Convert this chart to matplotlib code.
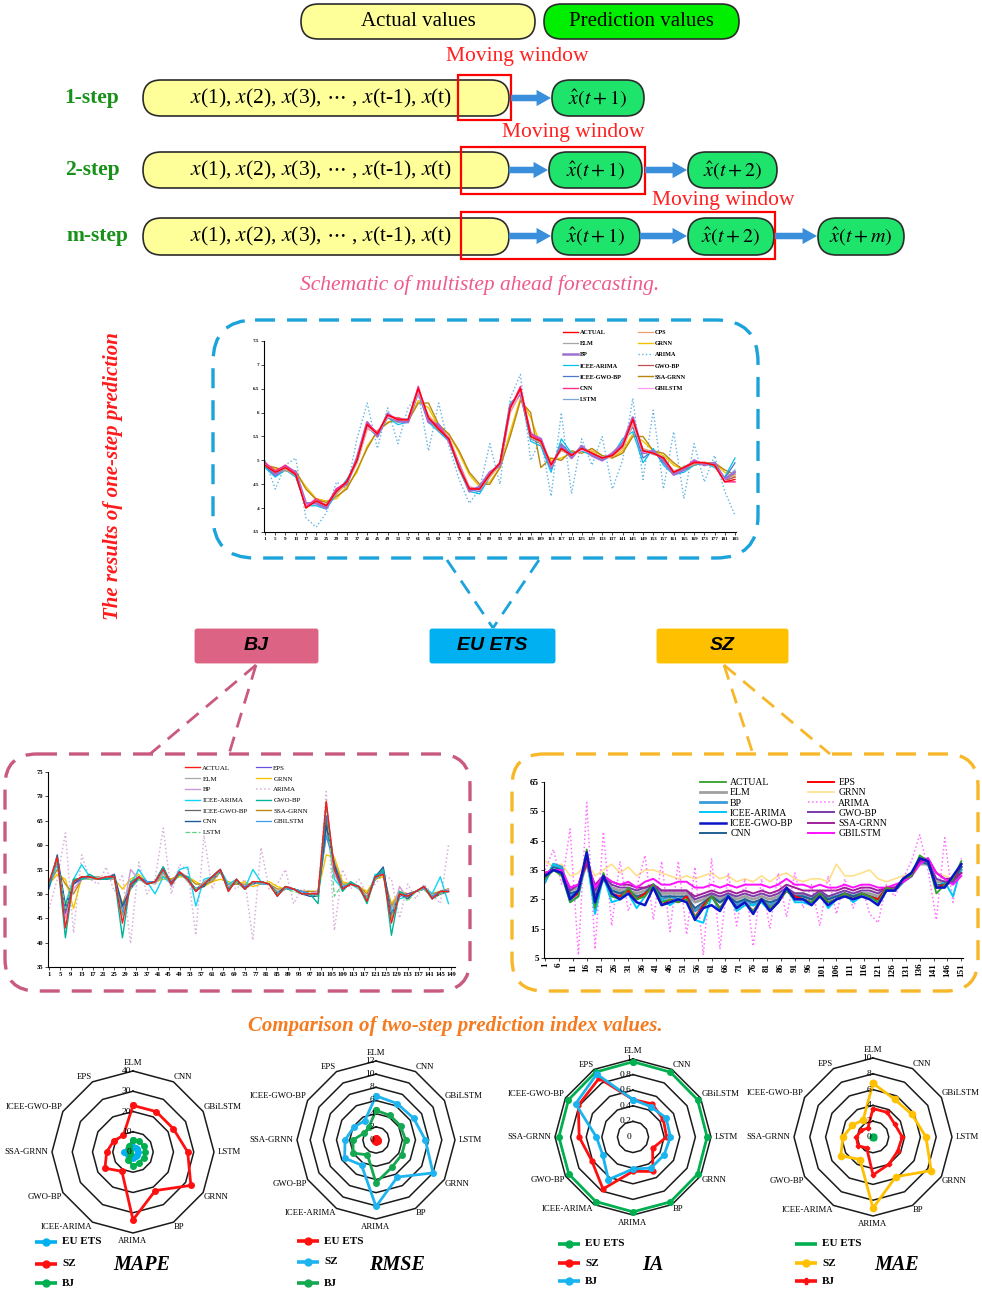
import numpy as np
import matplotlib
matplotlib.use("Agg")
import matplotlib.pyplot as plt
import matplotlib.transforms as mtransforms
from matplotlib.patches import FancyBboxPatch, Rectangle

W, H = 982, 1291
plt.rcParams["font.family"] = ["Liberation Serif", "DejaVu Serif"]
plt.rcParams["mathtext.fontset"] = "stix"

# ---------------- EU ETS, one-step results (every 4th sample) ----------------
eu_t = list(range(1, 186, 4))
eu_actual = [4.90, 4.75, 4.85, 4.70, 4.00, 4.15, 4.05, 4.35, 4.55, 5.00, 5.75, 5.55, 5.95, 5.85, 5.85, 6.50,
             5.90, 5.65, 5.45, 4.85, 4.40, 4.40, 4.70, 4.95, 6.10, 6.50, 5.50, 5.40, 4.90, 5.25, 5.10, 5.25,
             5.15, 5.05, 5.10, 5.30, 5.85, 5.20, 5.15, 5.05, 4.75, 4.85, 4.95, 4.95, 4.90, 4.55, 4.60]
eu_cps = [4.88, 4.80, 4.82, 4.72, 4.10, 4.12, 4.08, 4.30, 4.50, 4.95, 5.65, 5.60, 5.90, 5.88, 5.82, 6.40,
          5.95, 5.70, 5.50, 4.95, 4.45, 4.38, 4.65, 4.90, 6.00, 6.40, 5.60, 5.35, 4.95, 5.20, 5.12, 5.22,
          5.18, 5.02, 5.08, 5.25, 5.75, 5.25, 5.18, 5.02, 4.78, 4.82, 4.92, 4.97, 4.88, 4.60, 4.70]
eu_elm = [4.92, 4.72, 4.80, 4.68, 4.05, 4.18, 4.02, 4.38, 4.52, 4.98, 5.70, 5.52, 5.92, 5.80, 5.88, 6.45,
          5.85, 5.62, 5.48, 4.80, 4.38, 4.42, 4.72, 4.92, 6.05, 6.45, 5.45, 5.38, 4.88, 5.28, 5.08, 5.28,
          5.12, 5.08, 5.12, 5.32, 5.80, 5.22, 5.12, 5.08, 4.72, 4.88, 4.95, 4.92, 4.92, 4.58, 4.65]
eu_bp = [4.95, 4.70, 4.88, 4.75, 4.10, 4.10, 4.00, 4.40, 4.50, 5.05, 5.80, 5.50, 5.98, 5.82, 5.80, 6.48,
         5.80, 5.75, 5.40, 4.90, 4.35, 4.45, 4.75, 4.90, 6.15, 6.40, 5.55, 5.45, 4.85, 5.30, 5.05, 5.30,
         5.10, 5.00, 5.15, 5.35, 5.90, 5.15, 5.20, 5.00, 4.70, 4.80, 5.00, 4.90, 4.95, 4.60, 4.75]
eu_icee_arima = [4.85, 4.65, 4.80, 4.65, 4.05, 4.05, 3.98, 4.30, 4.60, 4.95, 5.70, 5.50, 5.90, 5.75, 5.80, 6.40,
                 5.80, 5.60, 5.40, 4.80, 4.35, 4.30, 4.65, 4.95, 6.20, 6.40, 5.40, 5.30, 4.75, 5.45, 5.15, 5.20,
                 5.10, 5.00, 5.10, 5.45, 5.60, 4.95, 5.25, 4.90, 4.70, 4.75, 4.90, 4.95, 4.85, 4.65, 5.05]
eu_icee_gwo_bp = [4.88, 4.68, 4.82, 4.70, 4.08, 4.12, 4.02, 4.35, 4.58, 4.98, 5.72, 5.52, 5.90, 5.80, 5.85, 6.42,
                  5.82, 5.65, 5.42, 4.82, 4.38, 4.35, 4.68, 4.92, 6.12, 6.42, 5.45, 5.35, 4.82, 5.35, 5.12, 5.25,
                  5.12, 5.02, 5.12, 5.38, 5.70, 5.05, 5.20, 4.95, 4.72, 4.80, 4.92, 4.95, 4.88, 4.62, 4.95]
eu_cnn = [4.95, 4.78, 4.90, 4.72, 4.02, 4.20, 4.05, 4.40, 4.55, 5.02, 5.78, 5.58, 5.95, 5.88, 5.85, 6.55,
          5.88, 5.70, 5.45, 4.85, 4.42, 4.40, 4.72, 4.95, 6.10, 6.55, 5.55, 5.42, 4.92, 5.25, 5.12, 5.25,
          5.15, 5.05, 5.12, 5.30, 5.88, 5.20, 5.15, 5.05, 4.75, 4.85, 4.98, 4.95, 4.90, 4.55, 4.55]
eu_lstm = [4.90, 4.70, 4.85, 4.70, 4.10, 4.10, 4.08, 4.35, 4.55, 4.95, 5.68, 5.55, 5.90, 5.82, 5.85, 6.42,
           5.85, 5.62, 5.45, 4.85, 4.40, 4.42, 4.70, 4.92, 6.05, 6.40, 5.50, 5.38, 4.90, 5.22, 5.10, 5.22,
           5.15, 5.05, 5.10, 5.28, 5.78, 5.22, 5.15, 5.05, 4.78, 4.85, 4.95, 4.95, 4.90, 4.60, 4.80]
eu_grnn = [4.90, 4.82, 4.80, 4.75, 4.45, 4.20, 4.15, 4.20, 4.45, 4.75, 5.30, 5.60, 5.80, 5.85, 5.85, 6.25,
           6.10, 5.70, 5.55, 5.15, 4.70, 4.45, 4.55, 4.85, 5.60, 6.30, 5.90, 5.30, 5.00, 5.05, 5.15, 5.20,
           5.20, 5.10, 5.05, 5.20, 5.55, 5.40, 5.20, 5.10, 4.90, 4.80, 4.90, 4.95, 4.95, 4.75, 4.65]
eu_arima = [5.00, 4.40, 4.90, 5.05, 3.80, 3.60, 3.90, 4.55, 4.40, 5.45, 6.20, 5.25, 6.10, 5.35, 6.10, 6.40,
            5.20, 6.20, 5.30, 4.60, 4.10, 4.40, 5.35, 4.50, 6.30, 6.80, 5.00, 5.45, 4.25, 6.00, 4.30, 5.45,
            4.90, 5.50, 4.40, 5.00, 6.30, 4.60, 6.05, 4.40, 5.60, 4.20, 5.35, 4.55, 5.10, 4.35, 3.85]
eu_gwo_bp = [4.90, 4.72, 4.85, 4.72, 4.05, 4.15, 4.05, 4.38, 4.55, 5.00, 5.72, 5.55, 5.92, 5.85, 5.85, 6.45,
             5.88, 5.65, 5.45, 4.85, 4.40, 4.40, 4.70, 4.95, 6.08, 6.45, 5.50, 5.40, 4.90, 5.25, 5.10, 5.25,
             5.15, 5.05, 5.10, 5.30, 5.82, 5.20, 5.15, 5.05, 4.75, 4.85, 4.95, 4.95, 4.90, 4.58, 4.65]
eu_ssa_grnn = [4.90, 4.85, 4.78, 4.78, 4.40, 4.18, 4.12, 4.25, 4.40, 4.80, 5.25, 5.62, 5.78, 5.90, 5.82, 6.20,
               6.20, 5.75, 5.55, 5.20, 4.75, 4.50, 4.50, 4.85, 5.50, 6.25, 6.00, 4.85, 5.05, 5.00, 5.20, 5.15,
               5.25, 5.10, 5.05, 5.15, 5.50, 5.50, 5.20, 5.15, 4.95, 4.80, 4.90, 4.95, 4.95, 4.80, 4.70]
eu_gbilstm = [4.92, 4.75, 4.85, 4.72, 4.05, 4.15, 4.05, 4.35, 4.55, 5.00, 5.70, 5.55, 5.92, 5.85, 5.85, 6.45,
              5.90, 5.68, 5.48, 4.88, 4.42, 4.38, 4.70, 4.95, 6.05, 6.45, 5.52, 5.40, 4.88, 5.25, 5.10, 5.22,
              5.15, 5.05, 5.10, 5.30, 5.80, 5.18, 5.15, 5.05, 4.75, 4.85, 4.95, 4.95, 4.90, 4.58, 4.55]

# ---------------- BJ (every 3rd sample) ----------------
bj_t = list(range(1, 151, 3))
bj_actual = [52.5, 57.5, 43.0, 52.5, 53.5, 53.5, 53.0, 53.5, 53.5, 44.0, 52.0, 53.5, 52.0, 52.5, 55.0, 52.0, 54.5,
             53.0, 50.5, 52.0, 53.5, 55.0, 50.5, 53.0, 51.0, 52.5, 52.5, 52.0, 49.5, 51.5, 51.0, 50.0, 50.0, 50.0,
             69.0, 55.0, 51.0, 52.0, 51.5, 48.5, 53.5, 54.0, 44.0, 50.0, 49.5, 50.5, 51.5, 49.0, 50.5, 50.5]
bj_eps = [52.0, 57.0, 46.0, 52.0, 53.0, 53.5, 53.0, 53.0, 53.5, 46.0, 51.5, 53.5, 52.5, 52.5, 54.5, 52.5, 54.0,
          53.0, 51.0, 52.0, 53.0, 54.5, 51.0, 52.5, 51.5, 52.0, 52.5, 52.0, 50.0, 51.0, 51.0, 50.5, 50.0, 50.0,
          66.0, 56.0, 51.5, 52.0, 51.5, 49.0, 53.0, 54.5, 46.0, 49.5, 50.0, 50.5, 51.0, 49.5, 50.5, 50.5]
bj_elm = [52.0, 56.5, 47.0, 53.0, 53.0, 53.5, 53.5, 53.0, 53.0, 47.0, 51.0, 53.0, 52.5, 52.0, 54.0, 52.5, 54.5,
          52.5, 51.0, 52.5, 53.5, 54.5, 51.5, 52.5, 51.0, 52.5, 52.0, 52.0, 50.5, 51.0, 51.0, 50.5, 50.0, 50.0,
          63.0, 56.5, 51.0, 52.5, 51.0, 49.5, 53.0, 54.5, 47.0, 50.0, 49.5, 50.5, 51.0, 49.5, 50.0, 50.5]
bj_bp = [51.5, 57.0, 45.0, 51.0, 53.0, 53.0, 53.0, 53.5, 54.0, 45.5, 55.0, 53.0, 52.0, 52.5, 55.5, 51.5, 54.5,
         53.5, 50.5, 52.0, 53.0, 55.0, 51.0, 53.0, 51.0, 52.0, 52.5, 52.0, 50.0, 51.5, 51.0, 50.0, 50.0, 50.5,
         64.0, 54.0, 51.0, 52.0, 51.5, 49.0, 53.0, 54.5, 45.5, 51.5, 49.0, 50.5, 51.5, 49.0, 50.0, 51.0]
bj_icee_arima = [51.5, 56.0, 48.0, 53.0, 56.0, 53.5, 53.0, 53.0, 53.5, 47.0, 52.0, 55.0, 52.5, 50.0, 53.5, 52.0, 55.0,
                 55.5, 47.5, 53.0, 53.5, 55.0, 52.0, 53.0, 51.0, 55.0, 52.5, 52.0, 50.5, 51.0, 51.0, 50.5, 50.0, 49.5,
                 66.0, 53.0, 51.0, 52.0, 51.0, 49.0, 54.0, 54.0, 46.0, 49.0, 49.5, 50.5, 51.5, 50.0, 53.5, 48.0]
bj_icee_gwo_bp = [52.0, 57.0, 46.5, 52.5, 53.5, 53.5, 53.0, 53.5, 53.5, 46.0, 51.5, 53.5, 52.0, 52.5, 54.5, 52.0, 54.5,
                  53.0, 50.5, 52.0, 53.5, 55.0, 51.0, 53.0, 51.0, 52.5, 52.5, 52.0, 50.0, 51.5, 51.0, 50.0, 50.0, 50.0,
                  65.0, 55.5, 51.0, 52.0, 51.5, 49.0, 53.0, 55.0, 45.5, 50.0, 49.5, 50.5, 51.5, 49.0, 50.5, 50.5]
bj_cnn = [51.5, 58.0, 47.5, 52.0, 53.5, 53.5, 53.0, 53.0, 54.0, 47.5, 51.0, 53.5, 52.0, 52.5, 55.5, 52.0, 54.5,
          53.0, 51.0, 51.5, 53.5, 55.0, 51.0, 52.5, 51.0, 52.5, 52.5, 52.0, 50.0, 51.5, 51.0, 50.0, 49.5, 49.5,
          64.0, 56.0, 51.0, 52.0, 51.5, 48.5, 53.5, 55.5, 45.0, 50.0, 49.0, 50.5, 51.5, 49.0, 50.0, 50.5]
bj_lstm = [52.0, 57.0, 47.0, 53.0, 53.0, 53.0, 53.0, 53.5, 53.5, 45.5, 51.0, 53.0, 52.0, 52.5, 54.5, 52.0, 54.0,
           53.0, 51.0, 52.0, 53.0, 54.5, 51.0, 52.5, 51.0, 52.0, 52.5, 52.0, 50.0, 51.0, 50.5, 50.0, 50.0, 49.5,
           69.0, 49.5, 52.0, 52.0, 51.5, 49.0, 53.0, 54.0, 45.0, 50.5, 48.5, 50.5, 51.0, 49.0, 50.0, 50.5]
bj_grnn = [52.0, 54.0, 53.0, 47.0, 53.5, 53.0, 53.0, 53.0, 53.0, 51.0, 53.0, 54.0, 52.5, 52.5, 53.0, 53.0, 53.5,
           53.5, 52.5, 51.5, 52.5, 53.0, 52.5, 52.0, 52.5, 51.5, 52.0, 52.5, 51.5, 51.0, 51.0, 50.5, 50.5, 50.5,
           58.0, 57.5, 52.5, 52.0, 51.5, 50.5, 53.0, 53.5, 48.0, 50.5, 50.0, 50.5, 51.0, 50.0, 50.5, 51.0]
bj_arima = [47.0, 53.0, 62.5, 42.0, 58.0, 53.0, 52.0, 55.5, 50.5, 54.0, 39.8, 56.5, 50.0, 53.0, 63.5, 50.0, 56.0,
            55.0, 41.5, 62.0, 51.0, 55.0, 52.0, 51.0, 53.0, 40.5, 59.5, 51.0, 52.0, 55.0, 48.0, 51.0, 50.5, 50.0,
            71.0, 42.5, 55.0, 51.0, 53.0, 50.0, 52.0, 54.0, 53.0, 45.0, 52.0, 49.0, 52.0, 50.0, 48.0, 60.0]
bj_gwo_bp = [52.0, 57.5, 41.0, 53.0, 53.0, 54.0, 53.0, 53.0, 53.5, 41.0, 52.5, 53.5, 52.0, 52.5, 55.5, 52.0, 54.0,
             53.5, 50.5, 52.0, 53.5, 55.0, 50.5, 53.0, 51.0, 52.5, 52.5, 52.0, 49.5, 51.5, 51.0, 50.0, 50.0, 48.0,
             68.5, 55.0, 50.5, 52.5, 51.5, 48.0, 53.5, 55.0, 41.5, 50.5, 49.5, 50.5, 51.5, 49.0, 50.5, 50.5]
bj_ssa_grnn = [52.0, 55.0, 52.0, 50.0, 53.0, 53.5, 53.5, 53.0, 53.0, 48.0, 52.0, 53.0, 52.5, 52.5, 53.5, 53.0, 54.0,
               53.5, 52.0, 52.0, 52.5, 54.5, 52.0, 52.0, 52.0, 52.0, 52.5, 52.0, 51.0, 51.0, 51.0, 50.5, 50.5, 50.5,
               62.0, 56.5, 52.0, 52.0, 51.5, 50.0, 53.0, 54.0, 47.5, 50.0, 50.0, 50.5, 51.0, 50.0, 50.5, 51.0]
bj_gbilstm = [51.0, 57.5, 47.0, 53.0, 53.0, 53.5, 53.0, 53.0, 53.5, 46.0, 51.5, 53.0, 52.5, 52.5, 54.5, 52.0, 54.5,
              53.0, 51.0, 52.0, 53.5, 55.0, 51.0, 53.0, 51.0, 52.5, 52.0, 52.0, 50.0, 51.0, 51.0, 50.5, 50.0, 50.0,
              62.0, 56.0, 51.5, 52.0, 51.5, 49.0, 53.0, 54.5, 46.0, 50.0, 49.5, 50.5, 51.0, 49.5, 50.5, 50.5]

# ---------------- SZ (every 3rd sample) ----------------
sz_t = list(range(1, 152, 3))
sz_actual = [32, 35, 33, 24, 26, 42, 22, 34, 26, 25, 29, 25, 26, 30, 24, 25, 24, 25, 19, 22, 26, 22, 26, 22, 24, 21,
             25, 22, 24, 28, 25, 25, 24, 27, 24, 25, 27, 25, 27, 26, 24, 29, 28, 32, 33, 40, 38, 27, 30, 32, 38]
sz_eps = [33, 35, 34, 25, 27, 40, 24, 33, 27, 26, 28, 25, 27, 29, 23, 25, 24, 26, 19, 23, 26, 22, 26, 22, 24, 21,
          25, 22, 24, 28, 26, 25, 24, 27, 24, 25, 27, 25, 27, 26, 25, 29, 28, 32, 33, 39, 38, 29, 30, 32, 37]
sz_elm = [33, 35, 34, 28, 29, 37, 27, 32, 29, 28, 28, 27, 28, 30, 27, 27, 27, 27, 24, 25, 27, 25, 27, 25, 26, 25,
          26, 25, 26, 28, 27, 27, 26, 27, 26, 26, 27, 26, 27, 27, 26, 28, 28, 31, 33, 37, 37, 31, 31, 31, 35]
sz_grnn = [38, 36, 37, 33, 34, 38, 33, 35, 37, 34, 36, 33, 35, 35, 34, 33, 32, 33, 32, 33, 34, 32, 33, 31, 32, 31,
           33, 31, 33, 34, 32, 31, 32, 32, 31, 37, 33, 33, 34, 35, 32, 31, 32, 33, 34, 37, 38, 34, 33, 32, 36]
sz_bp = [31, 37, 36, 26, 28, 40, 25, 32, 28, 27, 28, 25, 27, 30, 25, 26, 25, 26, 21, 23, 26, 24, 26, 23, 25, 23,
         25, 23, 25, 28, 26, 26, 25, 27, 25, 26, 27, 26, 27, 26, 25, 28, 28, 31, 33, 38, 38, 29, 30, 31, 36]
sz_arima = [35, 42, 30, 49, 6, 58, 8, 48, 16, 38, 21, 29, 40, 18, 38, 14, 38, 13, 36, 6, 39, 8, 34, 16, 32, 9,
            32, 15, 34, 19, 34, 22, 30, 16, 33, 20, 32, 22, 30, 20, 17, 30, 26, 32, 38, 47, 35, 18, 46, 24, 39]
sz_icee_arima = [31, 37, 35, 24, 26, 39, 20, 33, 24, 25, 27, 22, 26, 30, 25, 23, 25, 26, 18, 17, 26, 21, 27, 21, 23, 23,
                 24, 21, 24, 29, 24, 24, 23, 27, 22, 25, 27, 24, 26, 26, 24, 29, 28, 32, 34, 38, 37, 29, 31, 26, 36]
sz_gwo_bp = [34, 35, 34, 28, 30, 38, 28, 33, 30, 29, 29, 28, 29, 30, 28, 28, 28, 28, 25, 26, 27, 26, 27, 26, 27, 26,
             27, 26, 27, 29, 27, 27, 26, 28, 26, 27, 28, 27, 28, 28, 27, 29, 29, 31, 33, 38, 38, 32, 31, 31, 34]
sz_icee_gwo_bp = [33, 35, 34, 25, 28, 41, 24, 33, 27, 25, 27, 24, 23, 29, 23, 24, 25, 24, 18, 22, 23, 21, 26, 22, 24, 20,
                  25, 21, 24, 29, 25, 25, 23, 26, 23, 25, 26, 25, 26, 25, 23, 28, 28, 32, 34, 39, 38, 29, 29, 33, 37]
sz_ssa_grnn = [34, 35, 34, 29, 30, 37, 30, 33, 31, 30, 30, 29, 29, 30, 28, 28, 28, 28, 26, 27, 28, 27, 28, 27, 28, 27,
               28, 27, 28, 30, 29, 28, 28, 28, 28, 28, 29, 28, 29, 29, 28, 29, 29, 31, 33, 38, 39, 34, 32, 32, 34]
sz_cnn = [33, 36, 35, 27, 28, 39, 26, 32, 28, 27, 28, 26, 27, 30, 26, 26, 26, 26, 22, 24, 26, 24, 26, 24, 25, 24,
          25, 24, 25, 28, 26, 26, 25, 27, 25, 26, 27, 26, 27, 26, 25, 28, 28, 31, 33, 38, 37, 30, 30, 31, 36]
sz_gbilstm = [34, 35, 35, 29, 30, 39, 29, 33, 31, 30, 31, 29, 31, 32, 30, 30, 31, 31, 29, 29, 30, 29, 30, 29, 30, 30,
              30, 29, 30, 32, 30, 30, 29, 30, 29, 29, 30, 29, 30, 30, 29, 29, 30, 31, 33, 37, 39, 34, 32, 30, 33]

# ---------------- two-step index values (radar) ----------------
CATS = ["ELM", "CNN", "GBiLSTM", "LSTM", "GRNN", "BP", "ARIMA", "ICEE-ARIMA", "GWO-BP", "SSA-GRNN", "ICEE-GWO-BP", "EPS"]
mape_eu = [2.5, 2.5, 2.5, 2.5, 2.5, 2.5, 3.0, 2.0, 3.0, 4.5, 3.0, 2.5]
mape_sz = [23, 23, 23, 27, 33, 22, 33.5, 11, 16, 13, 11, 9.5]
mape_bj = [6, 6, 6, 6, 6, 6, 7, 4.5, 1.5, 1.5, 2.5, 3.5]
rmse_eu = [0.30, 0.25, 0.25, 0.30, 0.30, 0.25, 0.35, 0.20, 0.25, 0.30, 0.20, 0.20]
rmse_sz = [6.7, 6.4, 6.6, 7.5, 10.0, 6.5, 10.1, 4.4, 5.5, 4.7, 3.9, 3.4]
rmse_bj = [4.5, 4.3, 4.3, 4.5, 4.5, 4.8, 6.5, 2.6, 4.0, 3.5, 2.1, 2.2]
ia_eu = [0.965, 0.96, 0.955, 0.95, 0.955, 0.96, 0.96, 0.955, 0.95, 0.95, 0.955, 0.96]
ia_sz = [0.48, 0.49, 0.45, 0.43, 0.29, 0.51, 0.44, 0.77, 0.61, 0.69, 0.81, 0.87]
ia_bj = [0.48, 0.45, 0.49, 0.48, 0.46, 0.46, 0.41, 0.63, 0.45, 0.47, 0.85, 0.93]
mae_eu = [0.15, 0.15, 0.15, 0.15, 0.15, 0.15, 0.15, 0.15, 0.15, 0.15, 0.15, 0.15]
mae_sz = [6.8, 5.5, 5.7, 6.7, 8.5, 5.8, 9.0, 3.3, 4.7, 3.8, 3.0, 2.5]
mae_bj = [3.6, 3.6, 3.2, 3.7, 3.6, 4.0, 4.8, 1.6, 2.2, 2.1, 1.7, 1.3]

BLUE, RED, GREEN, GOLD = "#00b0f0", "#ff1010", "#00b050", "#ffc000"

fig = plt.figure(figsize=(W / 100, H / 100), dpi=100)
bg = fig.add_axes([0, 0, 1, 1])
bg.set_xlim(0, W)
bg.set_ylim(H, 0)
bg.axis("off")


def px_axes(x0, y0, x1, y1, **kw):
    return fig.add_axes([x0 / W, 1 - y1 / H, (x1 - x0) / W, (y1 - y0) / H], **kw)


def pill(x0, y0, x1, y1, fc, text=None, fs=13):
    h = y1 - y0
    bg.add_patch(FancyBboxPatch((x0, y0), x1 - x0, h, boxstyle=f"round,pad=0,rounding_size={h / 2}",
                                fc=fc, ec="#2b2b2b", lw=1.2))
    if text:
        bg.text((x0 + x1) / 2, (y0 + y1) / 2, text, ha="center", va="center", fontsize=fs)


def arrow(x0, x1, y):
    bg.annotate("", xy=(x1, y), xytext=(x0, y),
                arrowprops=dict(arrowstyle="simple,head_length=0.8,head_width=0.9,tail_width=0.36",
                                fc="#3a8fdc", ec="none", mutation_scale=13, shrinkA=0, shrinkB=0))


# ---------------- schematic ----------------
pill(301, 4, 535, 39, "#ffff99", "Actual values", 15)
pill(544, 4, 739, 39, "#00ee00", "Prediction values", 15)

seq = "$x$(1), $x$(2), $x$(3), $\\cdots$ , $x$(t-1), $x$(t)"
rows = [(80, 116, "1-step", 92), (152, 188, "2-step", 92), (218, 255, "m-step", 97)]
for y0, y1, lab, lx in rows:
    pill(143, y0, 509, y1, "#ffff99")
    bg.text(321, (y0 + y1) / 2, seq, ha="center", va="center", fontsize=15.5)
    bg.text(lx, (y0 + y1) / 2, lab, ha="center", va="center", fontsize=15.5, fontweight="bold", color="#179117")

GP = "#1fe46c"
pill(552, 80, 644, 116, GP, r"$\hat{x}(t+1)$", 14.5)
pill(549, 152, 642, 188, GP, r"$\hat{x}(t+1)$", 14.5)
pill(688, 152, 777, 188, GP, r"$\hat{x}(t+2)$", 14.5)
pill(552, 218, 640, 255, GP, r"$\hat{x}(t+1)$", 14.5)
pill(688, 218, 774, 255, GP, r"$\hat{x}(t+2)$", 14.5)
pill(818, 218, 904, 255, GP, r"$\hat{x}(t+m)$", 14.5)
arrow(511, 551, 98)
arrow(509, 548, 170)
arrow(645, 687, 170)
arrow(509, 551, 236)
arrow(640, 687, 236)
arrow(775, 817, 236)
for x0, y0, x1, y1 in [(458, 75, 511, 120), (461, 147, 645, 194), (461, 212, 775, 259)]:
    bg.add_patch(Rectangle((x0, y0), x1 - x0, y1 - y0, fc="none", ec="#ff0000", lw=1.6))
for x, y in [(517, 57), (573, 133), (723, 200)]:
    bg.text(x, y, "Moving window", ha="center", va="center", fontsize=15.5, color="#ff2020")
bg.text(480, 285, "Schematic of multistep ahead forecasting.", ha="center", va="center",
        fontsize=15.5, style="italic", color="#ee5a8c")


# ---------------- frames, links and labels ----------------
def dash_box(x0, y0, x1, y1, color, r):
    bg.add_patch(FancyBboxPatch((x0, y0), x1 - x0, y1 - y0, boxstyle=f"round,pad=0,rounding_size={r}",
                                fc="none", ec=color, lw=2.4, ls=(0, (6, 3.6))))


def link(pts, color):
    for (xa, ya), (xb, yb) in pts:
        bg.plot([xa, xb], [ya, yb], color=color, lw=2.0, ls=(0, (5.5, 3.5)), solid_capstyle="butt")


dash_box(213, 320, 758, 558, "#1ba3dc", 42)
dash_box(5, 754, 470, 991, "#c95a7e", 32)
dash_box(512, 754, 978, 991, "#f7b728", 32)
link([((447, 560), (493, 628)), ((539, 560), (493, 628))], "#1ba3dc")
link([((256, 665), (150, 754)), ((256, 665), (229, 754))], "#c95a7e")
link([((724, 665), (753, 754)), ((724, 665), (830, 754))], "#f7b728")

for x0, x1, fc, lab in [(194, 319, "#dc6384", "BJ"), (429, 556, "#00b0f0", "EU ETS"), (656, 789, "#ffc000", "SZ")]:
    bg.add_patch(FancyBboxPatch((x0, 628), x1 - x0, 36, boxstyle="round,pad=0,rounding_size=3",
                                fc=fc, ec="white", lw=0.8))
    bg.text((x0 + x1) / 2, 646, lab, ha="center", va="center", fontsize=14, fontweight="bold",
            style="italic", family="Liberation Sans")

bg.text(113, 476, "The results of one-step prediction", rotation=90, ha="center", va="center",
        fontsize=15, fontweight="bold", style="italic", color="#ff1a1a")
bg.text(455, 1026, "Comparison of two-step prediction index values.", ha="center", va="center",
        fontsize=15, fontweight="bold", style="italic", color="#f47b20")


# ---------------- line panels ----------------
def line_panel(box, t, lines, cols, xlim, ylim, yticks, xticks, fs, xrot, leg):
    ax = px_axes(*box)
    ax.patch.set_alpha(0)
    handles = {}
    for name, vals, color, ls, lw in lines:
        h, = ax.plot(t[:len(vals)], vals, color=color, ls=ls, lw=lw)
        handles[name] = h
    ax.set_xlim(*xlim)
    ax.set_ylim(*ylim)
    ax.set_yticks(yticks)
    ax.set_yticklabels([f"{v:g}" for v in yticks])
    ax.set_xticks(xticks)
    ax.set_xticklabels([str(v) for v in xticks], rotation=xrot)
    for s in ("top", "right"):
        ax.spines[s].set_visible(False)
    for s in ("left", "bottom"):
        ax.spines[s].set_linewidth(0.8)
    ax.tick_params(labelsize=fs, length=2, width=0.5, pad=1.5)
    for lab in ax.get_xticklabels() + ax.get_yticklabels():
        lab.set_fontweight("bold")
    order = cols[0] + cols[1]
    lx, ly, lfs, lsp, csp, hl, weight = leg
    ax.legend([handles[n] for n in order], order, ncol=2, loc="upper left",
              bbox_to_anchor=(lx, ly), bbox_transform=bg.transData, frameon=False,
              labelspacing=lsp, columnspacing=csp, handlelength=hl,
              handletextpad=0.4, borderpad=0, borderaxespad=0,
              prop={"size": lfs, "weight": weight})
    return ax


eu_lines = [
    ("ARIMA", eu_arima, "#62b4e4", ":", 1.0),
    ("GRNN", eu_grnn, "#f2c200", "-", 1.0),
    ("SSA-GRNN", eu_ssa_grnn, "#b8860b", "-", 1.0),
    ("ICEE-ARIMA", eu_icee_arima, "#00c0f0", "-", 0.9),
    ("LSTM", eu_lstm, "#7aa6da", "-", 0.9),
    ("ICEE-GWO-BP", eu_icee_gwo_bp, "#4a78c8", "-", 0.9),
    ("ELM", eu_elm, "#a6a6a6", "-", 0.9),
    ("GWO-BP", eu_gwo_bp, "#c0504d", "-", 0.9),
    ("CPS", eu_cps, "#f0a070", "-", 0.9),
    ("BP", eu_bp, "#a070d0", "-", 1.8),
    ("GBILSTM", eu_gbilstm, "#ff9cf0", "-", 0.9),
    ("CNN", eu_cnn, "#ff2a8a", "-", 1.0),
    ("ACTUAL", eu_actual, "#ff0000", "-", 1.0),
]
line_panel((264, 341, 736, 532), eu_t, eu_lines,
           (["ACTUAL", "ELM", "BP", "ICEE-ARIMA", "ICEE-GWO-BP", "CNN", "LSTM"],
            ["CPS", "GRNN", "ARIMA", "GWO-BP", "SSA-GRNN", "GBILSTM"]),
           (0.6, 185.4), (3.5, 7.5), [3.5, 4, 4.5, 5, 5.5, 6, 6.5, 7, 7.5], eu_t, 3.7, 0,
           (563, 330, 4.4, 0.95, 2.6, 2.4, "bold"))

bj_lines = [
    ("ARIMA", bj_arima, "#d9b0dc", ":", 1.1),
    ("GRNN", bj_grnn, "#f5c400", "-", 1.0),
    ("SSA-GRNN", bj_ssa_grnn, "#c08a10", "-", 1.0),
    ("ICEE-ARIMA", bj_icee_arima, "#10d4f4", "-", 1.0),
    ("BP", bj_bp, "#c89ad4", "-", 1.0),
    ("ELM", bj_elm, "#a8a8a8", "-", 0.9),
    ("EPS", bj_eps, "#6a50e0", "-", 0.9),
    ("ICEE-GWO-BP", bj_icee_gwo_bp, "#666666", "-", 0.9),
    ("GBILSTM", bj_gbilstm, "#3a9af0", "-", 0.9),
    ("CNN", bj_cnn, "#1f5a9a", "-", 1.0),
    ("LSTM", bj_lstm, "#5cd67c", "--", 0.9),
    ("GWO-BP", bj_gwo_bp, "#00b39a", "-", 1.0),
    ("ACTUAL", bj_actual, "#ff1a1a", "-", 1.0),
]
line_panel((48, 772, 455, 967), bj_t, bj_lines,
           (["ACTUAL", "ELM", "BP", "ICEE-ARIMA", "ICEE-GWO-BP", "CNN", "LSTM"],
            ["EPS", "GRNN", "ARIMA", "GWO-BP", "SSA-GRNN", "GBILSTM"]),
           (0.6, 150.4), (35, 75), list(range(35, 76, 5)), list(range(1, 151, 4)), 4.8, 0,
           (185, 765, 5.0, 0.7, 1.2, 2.1, "normal"))

sz_lines = [
    ("GRNN", sz_grnn, "#ffe08a", "-", 1.2),
    ("ARIMA", sz_arima, "#ff70ff", ":", 1.1),
    ("ELM", sz_elm, "#a0a0a0", "-", 2.0),
    ("BP", sz_bp, "#3a9ad9", "-", 2.0),
    ("ICEE-ARIMA", sz_icee_arima, "#00c8f8", "-", 1.4),
    ("CNN", sz_cnn, "#1f6091", "-", 1.4),
    ("GWO-BP", sz_gwo_bp, "#7a3aa8", "-", 1.4),
    ("SSA-GRNN", sz_ssa_grnn, "#a0209a", "-", 1.4),
    ("GBILSTM", sz_gbilstm, "#ff10ff", "-", 1.4),
    ("EPS", sz_eps, "#ff0000", "-", 1.4),
    ("ACTUAL", sz_actual, "#33a02c", "-", 1.3),
    ("ICEE-GWO-BP", sz_icee_gwo_bp, "#0a14c8", "-", 1.8),
]
line_panel((544, 782, 963, 958), sz_t, sz_lines,
           (["ACTUAL", "ELM", "BP", "ICEE-ARIMA", "ICEE-GWO-BP", "CNN"],
            ["EPS", "GRNN", "ARIMA", "GWO-BP", "SSA-GRNN", "GBILSTM"]),
           (0.6, 151.6), (5, 65), list(range(5, 66, 10)), list(range(1, 152, 5)), 6.6, 90,
           (700, 778, 7.0, 0.13, 1.5, 2.7, "normal"))


# ---------------- radar panels ----------------
def radar(cx, cy, R, rmax, step, fmt, series):
    ax = px_axes(cx - R, cy - R, cx + R, cy + R, projection="polar")
    ax.set_theta_offset(np.pi / 2)
    ax.set_theta_direction(-1)
    ax.set_ylim(0, rmax)
    ax.set_xticks([])
    ax.set_yticks([])
    ax.grid(False)
    ax.spines["polar"].set_visible(False)
    ax.patch.set_visible(False)
    ang = np.linspace(0, 2 * np.pi, len(CATS), endpoint=False)
    closed = np.append(ang, ang[0])
    rings = np.arange(step, rmax + step / 2, step)
    for v in rings:
        ax.plot(closed, np.full(len(closed), v), color="#1a1a1a", lw=1.1, zorder=1, clip_on=False)
    off = mtransforms.offset_copy(ax.transData, fig=fig, x=-1.2, y=0, units="points")
    for v in np.concatenate([[0], rings]):
        ax.text(0, v, fmt(v), transform=off, ha="right", va="center", fontsize=6.8, zorder=4)
    for a, name in zip(ang, CATS):
        s, c = np.sin(a), np.cos(a)
        ha = "center" if abs(s) < 0.1 else ("left" if s > 0 else "right")
        va = "bottom" if c > 0.3 else ("top" if c < -0.3 else "center")
        if abs(s) < 0.1:
            rr = 1.05
        elif abs(c) < 0.1:
            rr = 1.05
        else:
            rr = 1.01
        ax.text(a, rmax * rr, name, ha=ha, va=va, fontsize=6.3, clip_on=False)
    for vals, color, marker, ms in series:
        ax.plot(closed, np.append(vals, vals[0]), color=color, lw=2.0, marker=marker, ms=ms,
                zorder=2, clip_on=False)
    return ax


def radar_legend(x0, ys, names, colors, markers, title, tx):
    for y, n, c, m in zip(ys, names, colors, markers):
        bg.plot([x0, x0 + 22], [y, y], color=c, lw=2.6, solid_capstyle="butt")
        if m:
            bg.plot([x0 + 11], [y], color=c, marker=m, ms=5)
        bg.text(x0 + 27, y, n, fontsize=8, fontweight="bold", va="center")
    bg.text(tx, 1265, title, fontsize=14.5, fontweight="bold", style="italic", ha="center", va="center")


radar(133, 1152, 81, 40, 10, lambda v: f"{v:g}",
      [(mape_eu, BLUE, "o", 4), (mape_sz, RED, "o", 4), (mape_bj, GREEN, "o", 4)])
radar_legend(35, [1242, 1264, 1283], ["EU ETS", "SZ", "BJ"], [BLUE, RED, GREEN], ["o", "o", "o"], "MAPE", 142)

radar(376, 1140, 79, 12, 2, lambda v: f"{v:g}",
      [(rmse_eu, RED, "o", 4), (rmse_sz, "#1fb4f0", "o", 4), (rmse_bj, "#14a850", "o", 4)])
radar_legend(297, [1241, 1262, 1283], ["EU ETS", "SZ", "BJ"], [RED, "#1fb4f0", "#14a850"], ["o", "o", "o"],
             "RMSE", 397)

radar(633, 1137, 78, 1.0, 0.2, lambda v: f"{v:.1f}".rstrip("0").rstrip(".") if v else "0",
      [(ia_eu, GREEN, "o", 4), (ia_sz, RED, "o", 3.5), (ia_bj, "#18b4f0", "o", 4)])
radar_legend(558, [1244, 1263, 1281], ["EU ETS", "SZ", "BJ"], [GREEN, RED, "#18b4f0"], ["o", "o", "o"],
             "IA", 653)

radar(873, 1137, 79, 10, 2, lambda v: f"{v:g}",
      [(mae_eu, GREEN, "o", 3), (mae_sz, GOLD, "o", 4.5), (mae_bj, RED, "P", 3)])
radar_legend(795, [1244, 1263, 1281], ["EU ETS", "SZ", "BJ"], [GREEN, GOLD, RED], [None, "o", "P"],
             "MAE", 897)

fig.savefig("out.png", dpi=100)
